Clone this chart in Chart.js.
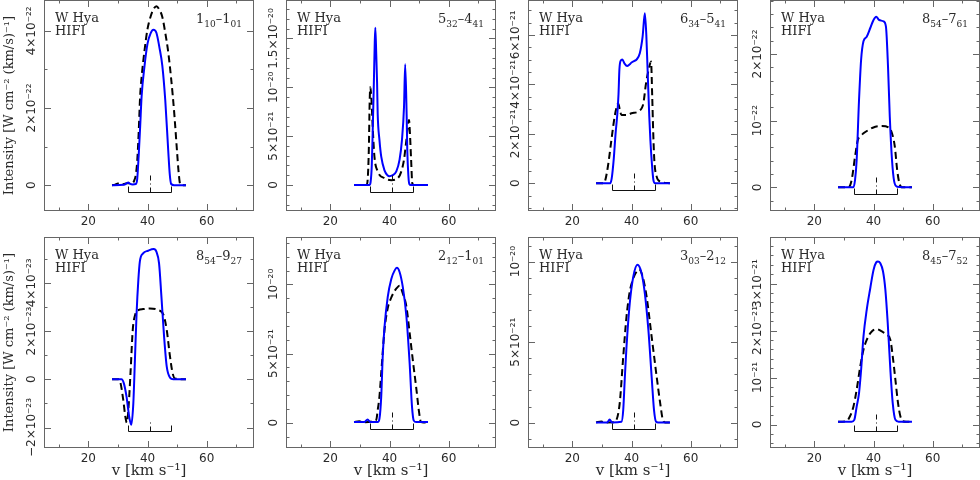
<!DOCTYPE html>
<html>
<head>
<meta charset="utf-8">
<title>W Hya HIFI line profiles</title>
<script src="https://cdn.jsdelivr.net/npm/chart.js"></script>
<style>
  html, body { margin: 0; padding: 0; background: #fff; }
  #wrap { position: relative; width: 980px; height: 480px; overflow: hidden; }
  #wrap canvas { position: absolute; }
</style>
</head>
<body>
<div id="wrap"></div>
<script>
// velocity axis (km/s)
const velMin = 5, velMax = 76;
const velTicks = [20, 40, 60];
const velMinorTicks = [10, 30, 50, 70];
const vSys = 40.7, vExp = 7.2;

// 1_10-1_01  (units 1e-22)
const p1SolidV = [28, 32, 33, 33.5, 34, 35, 36, 36.5, 37, 37.5, 38, 39, 40, 41, 42, 43, 44, 45, 46, 47, 47.5, 48, 49, 53];
const p1SolidI = [0, 0.01, 0.05, 0.07, 0.04, 0.02, 0.03, 0.15, 0.75, 1.5, 2.3, 3.1, 3.67, 3.93, 4.03, 3.95, 3.58, 3.1, 2.2, 0.9, 0.3, 0.03, 0, 0];
const p1DashV = [28, 29, 30, 31, 32, 33, 34, 35, 35.5, 36, 36.5, 37, 37.5, 38, 39, 40, 41, 42, 43, 44, 45, 46, 47, 48, 49, 50, 50.5, 51, 52, 53];
const p1DashI = [0, 0.01, 0.04, 0.02, 0.03, 0.05, 0.05, 0.06, 0.12, 0.25, 0.6, 1.34, 2.3, 2.8, 3.5, 4.05, 4.36, 4.56, 4.64, 4.55, 4.36, 3.95, 3.45, 2.75, 1.9, 0.85, 0.35, 0.04, 0, 0];
const p1YTicks = [0, 2, 4];
const p1YLabels = ['0', '2×10⁻²²', '4×10⁻²²'];

// 5_32-4_41  (units 1e-21)
const p2SolidV = [28, 33.2, 33.6, 34, 34.3, 34.7, 35, 35.2, 35.5, 35.8, 36, 36.6, 37.2, 38.3, 39.3, 40, 41, 42.3, 43.4, 44.2, 44.9, 45.3, 45.8, 46, 46.4, 46.7, 47.2, 53];
const p2SolidI = [0, 0, 0.3, 2.0, 5.3, 10.4, 14.5, 16.1, 13.5, 10.4, 7.3, 4.6, 2.9, 1.5, 1.0, 0.9, 1.0, 1.4, 2.6, 4.6, 8.0, 12.35, 7.0, 3.6, 0.85, 0.1, 0, 0];
const p2DashV = [28, 32.2, 32.6, 33, 33.3, 33.5, 33.9, 34.3, 34.9, 36, 38.3, 40.6, 42.8, 44, 44.9, 45.7, 46.6, 46.9, 47.3, 47.7, 48.3, 53];
const p2DashI = [0, 0, 0.5, 3.6, 8.7, 10.0, 8.7, 6.0, 2.9, 1.4, 0.7, 0.5, 0.7, 1.4, 2.6, 4.6, 6.65, 5.3, 2.6, 0.17, 0, 0];
const p2YTicks = [0, 5, 10, 15];
const p2YLabels = ['0', '5×10⁻²¹', '10⁻²⁰', '1.5×10⁻²⁰'];

// 6_34-5_41  (units 1e-21)
const p3SolidV = [28, 32.8, 33.3, 34, 34.6, 35.2, 35.6, 35.9, 36.3, 36.9, 37.6, 38.5, 39.3, 40, 41, 41.7, 42.8, 43.75, 44.5, 45, 45.4, 46, 46.4, 46.8, 47.4, 48, 53];
const p3SolidI = [0, 0, 0.2, 1.0, 2.0, 2.8, 3.6, 4.6, 4.95, 5.0, 4.85, 4.74, 4.8, 4.88, 4.95, 5.0, 5.26, 5.93, 6.87, 6.0, 4.7, 2.7, 1.7, 0.94, 0.13, 0, 0];
const p3DashV = [28, 30.5, 31, 32, 33.2, 34.3, 35, 35.5, 36, 36.6, 38.3, 40, 42.3, 43.5, 44, 44.9, 45.8, 46.6, 47, 47.3, 47.7, 48.5, 49.7, 53];
const p3DashI = [0, 0, 0.07, 0.67, 1.75, 2.7, 3.1, 3.23, 3.0, 2.76, 2.76, 2.83, 2.9, 3.05, 3.23, 4.04, 4.6, 4.92, 3.5, 2.2, 0.94, 0.27, 0.07, 0];
const p3YTicks = [0, 2, 4, 6];
const p3YLabels = ['0', '2×10⁻²¹', '4×10⁻²¹', '6×10⁻²¹'];

// 8_54-7_61  (units 1e-22)
const p4SolidV = [28, 33.2, 33.75, 34.3, 35.1, 35.8, 36.6, 37.7, 38.9, 40, 40.9, 41.9, 43.4, 44.2, 44.9, 45.5, 46.25, 47, 48, 53];
const p4SolidI = [0, 0, 0.11, 0.41, 1.31, 1.91, 2.19, 2.26, 2.39, 2.51, 2.56, 2.51, 2.49, 2.41, 1.81, 1.06, 0.41, 0.085, 0.01, 0];
const p4DashV = [28, 31.5, 32.6, 33.75, 34.7, 35.5, 36.6, 38.3, 40.6, 42.8, 45.1, 46.25, 47.2, 48, 48.75, 49.7, 53];
const p4DashI = [0, 0, 0.11, 0.46, 0.71, 0.76, 0.81, 0.86, 0.91, 0.92, 0.9, 0.81, 0.61, 0.26, 0.06, 0, 0];
const p4YTicks = [0, 1, 2];
const p4YLabels = ['0', '10⁻²²', '2×10⁻²²'];

// 8_54-9_27  (units 1e-23)
const p5SolidV = [28, 31.2, 32, 32.9, 33.8, 34.5, 35.2, 35.7, 36.3, 36.9, 37.4, 38.5, 40.2, 42.1, 43, 43.9, 44.7, 45.6, 46.5, 47.6, 48.7, 53];
const p5SolidI = [0, 0, -0.17, -0.72, -1.55, -1.89, -1.0, 0.66, 2.73, 4.12, 4.88, 5.22, 5.33, 5.4, 5.29, 4.81, 3.43, 1.77, 0.52, 0.07, 0, 0];
const p5DashV = [28, 30.3, 30.9, 31.8, 32.5, 33, 33.6, 34.3, 35, 35.8, 36.9, 38.5, 40.8, 43.6, 45.4, 46.5, 47.6, 48.5, 49.3, 53];
const p5DashI = [0, 0, -0.17, -0.86, -1.55, -1.8, -1.13, 0.39, 2.04, 2.67, 2.87, 2.91, 2.94, 2.87, 2.67, 2.04, 0.94, 0.25, 0.03, 0];
const p5YTicks = [-2, 0, 2, 4];
const p5YLabels = ['−2×10⁻²³', '0', '2×10⁻²³', '4×10⁻²³'];

// 2_12-1_01  (units 1e-21)
const p6SolidV = [28, 31.5, 32.6, 33.5, 36, 36.6, 37.2, 37.7, 38.3, 39.4, 40.6, 41.7, 42.5, 43.4, 44.5, 45.7, 46.8, 47.6, 48.2, 49, 53];
const p6SolidI = [0.05, 0.05, 0.24, 0.05, 0.05, 0.3, 1.9, 4.8, 6.9, 9.1, 10.4, 11.0, 11.2, 10.9, 9.8, 7.7, 4.3, 1.16, 0.15, 0.05, 0.05];
const p6DashV = [28, 29.8, 31, 35.5, 36, 36.6, 37.2, 38.3, 39.4, 40.5, 41.5, 42.5, 43.4, 44.5, 45.7, 46.8, 48, 49.1, 49.9, 50.6, 51.5, 53];
const p6DashI = [0.05, 0.1, 0.03, 0.2, 0.9, 1.9, 3.6, 6.7, 8.3, 9.0, 9.45, 9.75, 9.9, 9.35, 8.4, 6.5, 4.3, 2.4, 0.9, 0.07, 0.02, 0.02];
const p6YTicks = [0, 5, 10];
const p6YLabels = ['0', '5×10⁻²¹', '10⁻²⁰'];

// 3_03-2_12  (units 1e-21)
const p7SolidV = [28, 31.8, 32.6, 33.4, 36.6, 37.2, 37.7, 38.3, 39.4, 40.6, 42, 43.4, 44.5, 45.7, 46.8, 47.6, 48.3, 49, 53];
const p7SolidI = [0.02, 0.02, 0.2, 0.02, 0.06, 0.8, 2.65, 4.7, 7.4, 9.07, 9.8, 9.28, 8.03, 5.76, 2.86, 0.8, 0.06, 0.02, 0.02];
const p7DashV = [28, 29.8, 31, 34, 34.9, 36, 37.2, 38.3, 39.4, 40.6, 41.7, 42.6, 43.75, 45.1, 46.8, 48.5, 49.7, 50.6, 51.4, 53];
const p7DashI = [0.02, 0.08, 0.02, 0.03, 0.17, 1.2, 4.1, 6.58, 8.14, 8.96, 9.38, 9.52, 9.07, 7.83, 5.34, 2.86, 1.2, 0.17, 0.02, 0.02];
const p7YTicks = [0, 5, 10];
const p7YLabels = ['0', '5×10⁻²¹', '10⁻²⁰'];

// 8_45-7_52  (units 1e-21)
const p8SolidV = [28, 32.6, 33.5, 34.3, 35.1, 35.8, 36.6, 37.7, 38.9, 40, 40.9, 41.5, 42.3, 43.2, 44, 44.8, 45.7, 46.5, 47.4, 48.5, 53];
const p8SolidI = [0.06, 0.06, 0.1, 0.38, 0.67, 1.16, 1.87, 2.44, 2.9, 3.29, 3.45, 3.47, 3.43, 3.26, 2.87, 2.16, 1.16, 0.45, 0.1, 0.06, 0.06];
const p8DashV = [28, 30.9, 32, 33.2, 34.3, 35.5, 36.6, 37.7, 39.4, 41.1, 42.8, 44.5, 45.7, 46.5, 47.4, 48.3, 49.1, 49.9, 51, 53];
const p8DashI = [0.06, 0.07, 0.17, 0.38, 0.74, 1.23, 1.59, 1.8, 1.98, 2.03, 1.98, 1.91, 1.8, 1.45, 0.95, 0.45, 0.17, 0.07, 0.06, 0.06];
const p8YTicks = [0, 1, 2, 3];
const p8YLabels = ['0', '10⁻²¹', '2×10⁻²¹', '3×10⁻²¹'];

// transition labels: upper, upper sub, lower, lower sub
const transitions = [
  ['1', '10', '1', '01'], ['5', '32', '4', '41'], ['6', '34', '5', '41'], ['8', '54', '7', '61'],
  ['8', '54', '9', '27'], ['2', '12', '1', '01'], ['3', '03', '2', '12'], ['8', '45', '7', '52']
];

const panels = [
  { solidV: p1SolidV, solidI: p1SolidI, dashV: p1DashV, dashI: p1DashI, yMin: -0.67, yMax: 4.8, yTicks: p1YTicks, yLabels: p1YLabels, yStep: 1, markLen: 19 },
  { solidV: p2SolidV, solidI: p2SolidI, dashV: p2DashV, dashI: p2DashI, yMin: -2.66, yMax: 18.94, yTicks: p2YTicks, yLabels: p2YLabels, yStep: 1, markLen: 19 },
  { solidV: p3SolidV, solidI: p3SolidI, dashV: p3DashV, dashI: p3DashI, yMin: -1.12, yMax: 7.41, yTicks: p3YTicks, yLabels: p3YLabels, yStep: 0.5, markLen: 19 },
  { solidV: p4SolidV, solidI: p4SolidI, dashV: p4DashV, dashI: p4DashI, yMin: -0.355, yMax: 2.81, yTicks: p4YTicks, yLabels: p4YLabels, yStep: 0.2, markLen: 19 },
  { solidV: p5SolidV, solidI: p5SolidI, dashV: p5DashV, dashI: p5DashI, yMin: -2.85, yMax: 5.9, yTicks: p5YTicks, yLabels: p5YLabels, yStep: 1, markLen: 10 },
  { solidV: p6SolidV, solidI: p6SolidI, dashV: p6DashV, dashI: p6DashI, yMin: -1.83, yMax: 13.43, yTicks: p6YTicks, yLabels: p6YLabels, yStep: 1, markLen: 19 },
  { solidV: p7SolidV, solidI: p7SolidI, dashV: p7DashV, dashI: p7DashI, yMin: -1.57, yMax: 11.53, yTicks: p7YTicks, yLabels: p7YLabels, yStep: 1, markLen: 19 },
  { solidV: p8SolidV, solidI: p8SolidI, dashV: p8DashV, dashI: p8DashI, yMin: -0.5, yMax: 3.99, yTicks: p8YTicks, yLabels: p8YLabels, yStep: 0.2, markLen: 19 }
];

const frameLefts = [44, 286, 528, 770];
const rowTops = [0, 237];
const serif = '"DejaVu Serif", serif';
const sans = '"DejaVu Sans", sans-serif';
const textColor = '#2a2a2a';

Chart.defaults.font.family = sans;
Chart.defaults.color = textColor;

// frame, inward ticks, rotated y labels, bracket and panel texts
function framePlugin(p, i) {
  return {
    id: 'frame' + i,
    afterDraw(chart) {
      const ctx = chart.ctx;
      const a = chart.chartArea;
      const xs = chart.scales.x, ys = chart.scales.y;
      const line = (x1, y1, x2, y2) => { ctx.beginPath(); ctx.moveTo(x1, y1); ctx.lineTo(x2, y2); ctx.stroke(); };
      ctx.save();

      // velocity range bracket and systemic velocity mark
      const lowest = Math.min(0, ...p.solidI, ...p.dashI);
      const yb = Math.round(ys.getPixelForValue(lowest) + 6.5) + 0.5;
      const xl = Math.round(xs.getPixelForValue(vSys - vExp)) + 0.5;
      const xr = Math.round(xs.getPixelForValue(vSys + vExp)) + 0.5;
      const xc = Math.round(xs.getPixelForValue(vSys)) + 0.5;
      ctx.strokeStyle = '#111';
      ctx.lineWidth = 1;
      ctx.beginPath();
      ctx.moveTo(xl, yb - 6); ctx.lineTo(xl, yb); ctx.lineTo(xr, yb); ctx.lineTo(xr, yb - 6);
      ctx.stroke();
      ctx.setLineDash([5, 3, 1, 3]);
      line(xc, yb, xc, yb - p.markLen);
      ctx.setLineDash([]);

      // frame
      ctx.strokeStyle = '#666';
      ctx.strokeRect(a.left + 0.5, a.top + 0.5, a.width - 1, a.height - 1);

      // x ticks, top and bottom
      const xTick = (v, len) => {
        const x = Math.round(xs.getPixelForValue(v)) + 0.5;
        line(x, a.bottom, x, a.bottom - len);
        line(x, a.top, x, a.top + len);
      };
      velTicks.forEach(v => xTick(v, 7));
      velMinorTicks.forEach(v => xTick(v, 3.5));

      // y ticks, left and right
      const kMin = Math.ceil(p.yMin / p.yStep - 1e-6), kMax = Math.floor(p.yMax / p.yStep + 1e-6);
      for (let k = kMin; k <= kMax; k++) {
        const v = k * p.yStep;
        const major = p.yTicks.some(t => Math.abs(t - v) < 1e-6);
        const len = major ? 7 : 3.5;
        const y = Math.round(ys.getPixelForValue(v)) + 0.5;
        line(a.left, y, a.left + len, y);
        line(a.right, y, a.right - len, y);
      }

      // rotated y tick labels
      ctx.fillStyle = textColor;
      ctx.font = '12px ' + sans;
      ctx.textAlign = 'center';
      ctx.textBaseline = 'middle';
      p.yTicks.forEach((v, k) => {
        const y = ys.getPixelForValue(v);
        ctx.save();
        ctx.translate(a.left - 12, y);
        ctx.rotate(-Math.PI / 2);
        ctx.fillText(p.yLabels[k], 0, 0);
        ctx.restore();
      });

      // source / instrument
      ctx.textAlign = 'left';
      ctx.textBaseline = 'alphabetic';
      ctx.font = '13px ' + serif;
      ctx.fillText('W Hya', a.left + 11, a.top + 22);
      ctx.fillText('HIFI', a.left + 11, a.top + 35);

      // transition with subscripts
      const t = transitions[i];
      const parts = [[t[0], false], [t[1], true], ['–', false], [t[2], false], [t[3], true]];
      const fontOf = sub => (sub ? '9px ' : '13px ') + serif;
      let total = 0;
      parts.forEach(([s, sub]) => { ctx.font = fontOf(sub); total += ctx.measureText(s).width; });
      let x = a.right - 12 - total;
      parts.forEach(([s, sub]) => {
        ctx.font = fontOf(sub);
        ctx.fillText(s, x, a.top + (sub ? 27 : 23));
        x += ctx.measureText(s).width;
      });

      ctx.restore();
    }
  };
}

const wrap = document.getElementById('wrap');

panels.forEach((p, i) => {
  const row = Math.floor(i / 4), col = i % 4;
  const axisH = row === 0 ? 29 : 32;
  const canvas = document.createElement('canvas');
  canvas.width = 254;
  canvas.height = 211 + axisH;
  canvas.style.width = canvas.width + 'px';
  canvas.style.height = canvas.height + 'px';
  canvas.style.left = (frameLefts[col] - 44) + 'px';
  canvas.style.top = rowTops[row] + 'px';
  wrap.appendChild(canvas);

  new Chart(canvas.getContext('2d'), {
    type: 'line',
    data: {
      datasets: [
        {
          label: 'solid',
          data: p.solidV.map((v, k) => ({ x: v, y: p.solidI[k] })),
          borderColor: '#0000ff',
          borderWidth: 2,
          pointRadius: 0,
          cubicInterpolationMode: 'monotone'
        },
        {
          label: 'dashed',
          data: p.dashV.map((v, k) => ({ x: v, y: p.dashI[k] })),
          borderColor: '#000',
          borderWidth: 2,
          borderDash: [7, 4],
          pointRadius: 0,
          cubicInterpolationMode: 'monotone'
        }
      ]
    },
    options: {
      responsive: false,
      animation: false,
      events: [],
      layout: { padding: 0 },
      plugins: { legend: { display: false }, tooltip: { enabled: false } },
      scales: {
        x: {
          type: 'linear',
          min: velMin,
          max: velMax,
          grid: { display: false, drawTicks: false },
          border: { display: false },
          afterBuildTicks: s => { s.ticks = velTicks.map(v => ({ value: v })); },
          afterFit: s => { s.height = axisH; },
          ticks: { padding: 4, font: { size: 12, family: sans }, color: textColor, maxRotation: 0 },
          title: {
            display: row === 1,
            text: 'v [km s⁻¹]',
            font: { size: 15, family: serif },
            color: textColor,
            padding: { top: 0, bottom: 0 }
          }
        },
        y: {
          type: 'linear',
          min: p.yMin,
          max: p.yMax,
          grid: { display: false, drawTicks: false },
          border: { display: false },
          ticks: { display: false },
          afterFit: s => { s.width = 44; },
          title: {
            display: col === 0,
            text: 'Intensity [W cm⁻² (km/s)⁻¹]',
            font: { size: 13, family: serif },
            color: textColor,
            padding: { top: 1.5, bottom: 0 }
          }
        }
      }
    },
    plugins: [framePlugin(p, i)]
  });
});
</script>
</body>
</html>
